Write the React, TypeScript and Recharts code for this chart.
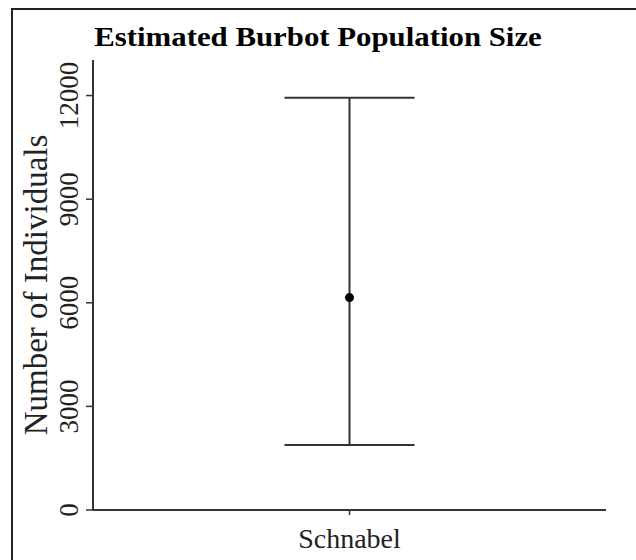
import React from 'react';
import { ComposedChart, Scatter, ErrorBar, XAxis, YAxis } from 'recharts';

const categories = ['Schnabel'];
const estimates = [6150];
const lowerCI = [1880];
const upperCI = [11940];
const yTicks = [0, 3000, 6000, 9000, 12000];
const yMax = 13030;

const data = categories.map((name, i) => ({
  name,
  value: estimates[i],
  err: [estimates[i] - lowerCI[i], upperCI[i] - estimates[i]],
}));

const SERIF = '"Liberation Serif", "Times New Roman", serif';
const INK = '#333';

function YTick({ x, y, payload }: any) {
  const bx = x - 6;
  return (
    <text x={bx} y={y} transform={`rotate(-90, ${bx}, ${y})`} textAnchor="middle"
      fontSize={27} fontFamily={SERIF} fill="#222">
      {payload.value}
    </text>
  );
}

function XTick({ x, y, payload }: any) {
  return (
    <text x={x} y={y + 31} textAnchor="middle" fontSize={28} fontFamily={SERIF} fill="#222">
      {payload.value}
    </text>
  );
}

function Dot({ cx, cy }: any) {
  return <circle cx={cx} cy={cy} r={4.5} fill="#000" />;
}

export default function App() {
  return (
    <div style={{ position: 'absolute', left: 0, top: 0, width: 636, height: 560, overflow: 'hidden', background: '#fff' }}>
      <div style={{ position: 'absolute', left: 11, top: 8, width: 700, height: 700, borderTop: '2px solid #222', borderLeft: '2px solid #222' }} />
      <div style={{
        position: 'absolute', left: 0, top: 19, width: 636, textAlign: 'center',
        fontFamily: SERIF, fontWeight: 'bold', fontSize: 28, color: '#000',
        transform: 'scaleX(1.1)', lineHeight: '36px',
      }}>
        Estimated Burbot Population Size
      </div>
      <div style={{ position: 'absolute', left: 0, top: 0 }}>
        <ComposedChart width={636} height={560} data={data} margin={{ top: 60, right: 30, bottom: 0, left: 13 }}>
          <XAxis dataKey="name" type="category" height={50} tick={<XTick />} tickSize={5}
            axisLine={{ stroke: INK, strokeWidth: 2 }} tickLine={{ stroke: INK, strokeWidth: 1.5 }} />
          <YAxis type="number" domain={[0, yMax]} ticks={yTicks} width={80} tick={<YTick />} tickSize={7}
            axisLine={{ stroke: INK, strokeWidth: 2 }} tickLine={{ stroke: INK, strokeWidth: 1.5 }}
            label={{
              content: () => (
                <text x={47} y={285} transform="rotate(-90, 47, 285)" textAnchor="middle"
                  fontSize={33} fontFamily={SERIF} fill="#222">
                  Number of Individuals
                </text>
              ),
            }} />
          <Scatter dataKey="value" shape={<Dot />} isAnimationActive={false}>
            <ErrorBar dataKey="err" direction="y" width={65} stroke={INK} strokeWidth={2} />
          </Scatter>
        </ComposedChart>
      </div>
    </div>
  );
}
